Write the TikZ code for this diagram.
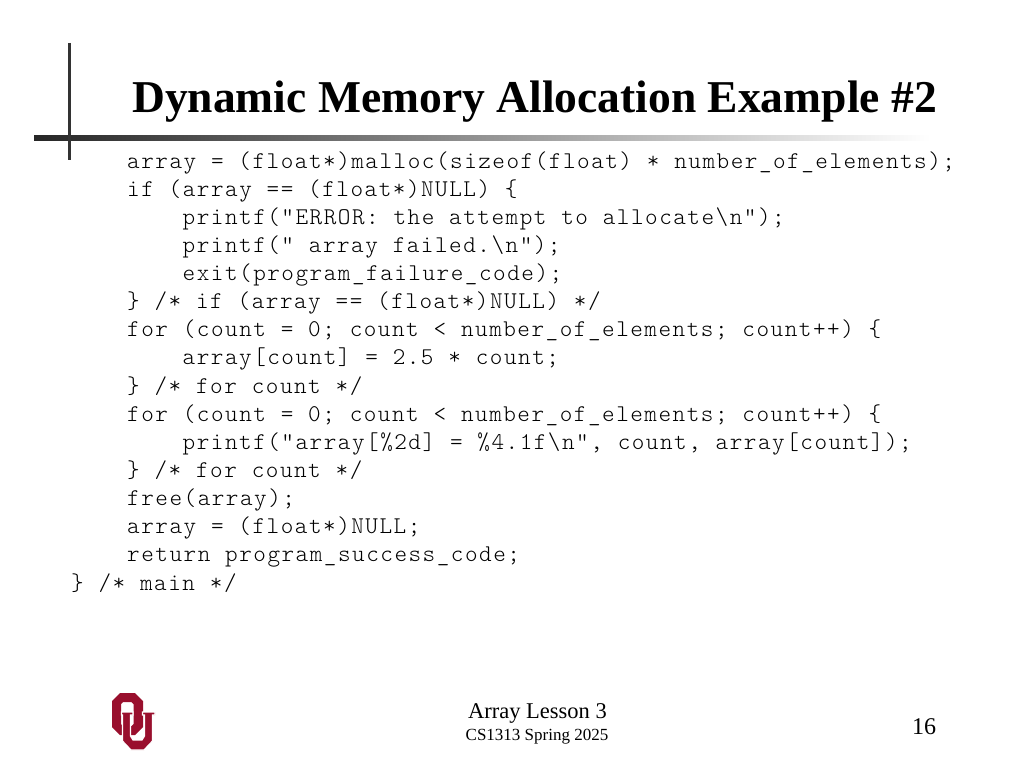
\documentclass[tikz,border=0pt]{standalone}
\usepackage{fontspec}
\setmainfont{Liberation Serif}
\newfontfamily\codefont[LetterSpace=6.3,WordSpace=1.05,Kerning=Off,Ligatures=NoCommon]{Latin Modern Mono Light}
\definecolor{ourust}{RGB}{153,15,45}
\tikzset{
  codeline/.style={anchor=base west,inner sep=0pt,font=\codefont\fontsize{24}{28}\selectfont},
  titletext/.style={anchor=base west,inner sep=0pt,font=\bfseries\fontsize{45.55}{50}\selectfont},
  foot/.style={anchor=base,inner sep=0pt},
  rule/.style={draw=black!80,line width=3.5pt}
}
\begin{document}
\begin{tikzpicture}[x=1pt,y=-1pt]
\useasboundingbox (0,0) rectangle (1024,768);
\fill[white] (0,0) rectangle (1024,768);
% rules
\shade[left color=black!85,right color=white] (34,135.8) rectangle (930,140.6);
\draw[rule] (69.7,43) -- (69.7,160);
% title
\node[titletext] (title) at (132,112.3) {Dynamic Memory Allocation Example \#2};
% code
\node[codeline] (l1) at (127,168) {array = (float*)malloc(sizeof(float) * number\_of\_elements);};
\node[codeline] (l2) at (127,196.1) {if (array == (float*)NULL) \{};
\node[codeline] (l3) at (182.5,224.3) {printf("ERROR: the attempt to allocate\textbackslash n");};
\node[codeline] (l4) at (182.5,252.4) {printf(" array failed.\textbackslash n");};
\node[codeline] (l5) at (182.5,280.5) {exit(program\_failure\_code);};
\node[codeline] (l6) at (127,308.7) {\} /* if (array == (float*)NULL) */};
\node[codeline] (l7) at (127,336.8) {for (count = 0; count < number\_of\_elements; count++) \{};
\node[codeline] (l8) at (182.5,364.9) {array[count] = 2.5 * count;};
\node[codeline] (l9) at (127,393.1) {\} /* for count */};
\node[codeline] (l10) at (127,421.2) {for (count = 0; count < number\_of\_elements; count++) \{};
\node[codeline] (l11) at (182.5,449.3) {printf("array[\%2d] = \%4.1f\textbackslash n", count, array[count]);};
\node[codeline] (l12) at (127,477.5) {\} /* for count */};
\node[codeline] (l13) at (127,505.6) {free(array);};
\node[codeline] (l14) at (127,533.7) {array = (float*)NULL;};
\node[codeline] (l15) at (127,561.9) {return program\_success\_code;};
\node[codeline] (l16) at (71,590) {\} /* main */};
% footer
\node[foot,font=\fontsize{22.5}{24}\selectfont] (f1) at (537.5,718) {Array Lesson 3};
\node[foot,font=\fontsize{17}{18}\selectfont] (f2) at (537,740) {CS1313 Spring 2025};
\node[foot,font=\fontsize{24}{26}\selectfont] (f3) at (924,734) {16};
% logo: O ring
\fill[ourust,even odd rule]
  (120,693) -- (135,693) -- (143,701) -- (143,727) -- (135,735) -- (120,735) -- (112,727) -- (112,701) -- cycle
  (123,702) -- (131.5,702) -- (133.5,704) -- (133.5,724) -- (131.5,726) -- (123,726) -- (121,724) -- (121,704) -- cycle;
% logo: U with white halo
\path[fill=ourust,draw=white,line width=1.2pt,line join=miter]
  (121.5,712) -- (133,712) -- (133,715) -- (130.5,715) -- (130.5,736) -- (133,740) -- (142,740) -- (144.5,736) -- (144.5,715) -- (142.5,715) -- (142.5,712) -- (155,712) -- (155,715) -- (152.5,715) -- (152.5,741) -- (144,750) -- (131,750) -- (122.5,741) -- (122.5,715) -- (121.5,715) -- cycle;
\end{tikzpicture}
\end{document}
